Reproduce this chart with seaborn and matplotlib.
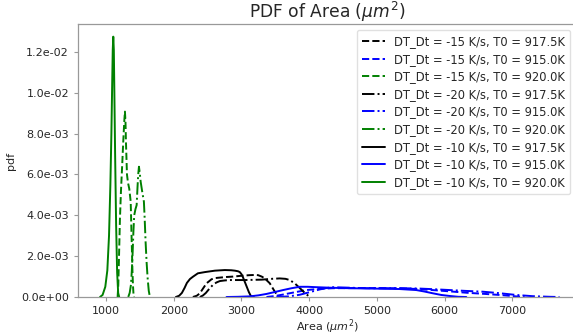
import numpy as np
import pandas as pd
import matplotlib
matplotlib.use("Agg")
import matplotlib.pyplot as plt
import seaborn as sns

# ---- data ----
labels = [
    "DT_Dt = -15 K/s, T0 = 917.5K",
    "DT_Dt = -15 K/s, T0 = 915.0K",
    "DT_Dt = -15 K/s, T0 = 920.0K",
    "DT_Dt = -20 K/s, T0 = 917.5K",
    "DT_Dt = -20 K/s, T0 = 915.0K",
    "DT_Dt = -20 K/s, T0 = 920.0K",
    "DT_Dt = -10 K/s, T0 = 917.5K",
    "DT_Dt = -10 K/s, T0 = 915.0K",
    "DT_Dt = -10 K/s, T0 = 920.0K",
]

# -15 K/s
area_m15_9175 = [2283, 2340, 2386, 2440, 2485, 2559, 2620, 2681, 2780, 2877, 3000, 3124, 3200, 3246, 3300, 3345, 3419, 3493, 3541, 3560]
pdf_m15_9175 = [0, 0.00006, 0.00018, 0.00045, 0.00067, 0.00087, 0.00093, 0.00095, 0.00098, 0.00100, 0.00104, 0.00107, 0.00108, 0.00107, 0.00100, 0.00091, 0.00067, 0.00026, 0.00004, 0]
area_m15_9150 = [3370, 3500, 3615, 3800, 3960, 4150, 4348, 4800, 5336, 5600, 5823, 6100, 6320, 6600, 6811, 7057, 7180]
pdf_m15_9150 = [0, 0.00005, 0.00012, 0.00024, 0.00034, 0.00040, 0.00043, 0.00044, 0.00043, 0.00039, 0.00034, 0.00027, 0.00021, 0.00015, 0.00010, 0.00003, 0]
area_m15_9200 = [1172, 1182, 1192, 1206, 1221, 1240, 1255, 1270, 1280, 1288, 1295, 1310, 1325, 1344, 1365, 1380, 1390, 1398, 1407, 1415]
pdf_m15_9200 = [0, 0.0006, 0.0019, 0.0038, 0.00516, 0.0065, 0.0076, 0.0086, 0.00908, 0.0086, 0.0076, 0.0060, 0.0056, 0.0053, 0.00467, 0.0027, 0.0014, 0.0006, 0.0001, 0]

# -20 K/s
area_m20_9175 = [2386, 2430, 2475, 2530, 2578, 2630, 2681, 2750, 2829, 3050, 3301, 3450, 3566, 3650, 3714, 3790, 3861, 3935, 4009]
pdf_m20_9175 = [0, 0.00007, 0.0002, 0.00042, 0.00059, 0.00071, 0.00078, 0.00081, 0.00083, 0.00083, 0.00085, 0.00089, 0.00091, 0.00089, 0.00083, 0.00066, 0.00044, 0.00020, 0]
area_m20_9150 = [3517, 3700, 3861, 4000, 4156, 4260, 4353, 4550, 4845, 5200, 5582, 5850, 6074, 6300, 6563, 6800, 7057, 7300, 7549, 7696]
pdf_m20_9150 = [0, 0.00003, 0.00011, 0.00023, 0.00037, 0.00044, 0.00048, 0.00046, 0.00043, 0.00043, 0.00042, 0.00038, 0.00034, 0.00030, 0.00026, 0.00019, 0.00010, 0.00004, 0.00001, 0]
area_m20_9200 = [1329, 1350, 1369, 1382, 1394, 1405, 1417, 1435, 1453, 1466, 1476, 1487, 1498, 1512, 1535, 1560, 1572, 1585, 1600, 1615, 1632, 1649]
pdf_m20_9200 = [0, 0.0002, 0.0006, 0.0013, 0.0022, 0.0032, 0.0040, 0.0043, 0.0045, 0.0054, 0.0060, 0.00638, 0.0061, 0.00565, 0.00516, 0.00467, 0.0038, 0.0027, 0.0017, 0.00093, 0.0003, 0]

# -10 K/s
area_m10_9175 = [2032, 2080, 2121, 2160, 2195, 2240, 2283, 2357, 2460, 2608, 2755, 2850, 2903, 2950, 2976, 3000, 3021, 3050, 3080, 3110, 3139, 3183]
pdf_m10_9175 = [0, 0.00006, 0.0002, 0.00044, 0.00069, 0.00088, 0.00099, 0.00116, 0.00122, 0.00129, 0.00132, 0.00131, 0.00129, 0.00126, 0.00122, 0.00112, 0.00098, 0.00074, 0.00049, 0.00024, 0.00005, 0]
area_m10_9150 = [2780, 2950, 3124, 3250, 3370, 3500, 3615, 3740, 3861, 3980, 4107, 4350, 4599, 5000, 5336, 5582, 5700, 5828, 5950, 6074, 6200, 6320]
pdf_m10_9150 = [0, 0.00001, 0.00003, 0.00008, 0.00015, 0.00025, 0.00034, 0.00043, 0.00050, 0.00050, 0.00048, 0.00045, 0.00043, 0.00041, 0.00039, 0.00034, 0.00027, 0.00018, 0.00010, 0.00005, 0.00001, 0]
area_m10_9200 = [912, 950, 990, 1020, 1045, 1065, 1080, 1092, 1100, 1108, 1116, 1124, 1135, 1150, 1165, 1180, 1195]
pdf_m10_9200 = [0, 0.0001, 0.0005, 0.0013, 0.0030, 0.0055, 0.0080, 0.0105, 0.0121, 0.01275, 0.0121, 0.0100, 0.0070, 0.0035, 0.0012, 0.0002, 0]

areas = [area_m15_9175, area_m15_9150, area_m15_9200,
         area_m20_9175, area_m20_9150, area_m20_9200,
         area_m10_9175, area_m10_9150, area_m10_9200]
pdfs = [pdf_m15_9175, pdf_m15_9150, pdf_m15_9200,
        pdf_m20_9175, pdf_m20_9150, pdf_m20_9200,
        pdf_m10_9175, pdf_m10_9150, pdf_m10_9200]

colors = ["black", "blue", "green"] * 3
styles = ["--"] * 3 + ["-."] * 3 + ["-"] * 3

sns.set_style("ticks")
plt.rcParams["font.family"] = ["DejaVu Sans"]

fig = plt.figure(figsize=(5.73, 3.35), dpi=100)
ax = fig.add_axes([78 / 573, 38 / 335, (576 - 78) / 573, (297 - 24) / 335])

for a, p, lab, c, ls in zip(areas, pdfs, labels, colors, styles):
    df = pd.DataFrame({"Area": a, "pdf": p})
    sns.lineplot(data=df, x="Area", y="pdf", ax=ax, color=c, linestyle=ls,
                 linewidth=1.4, label=lab)
for line in ax.get_lines():
    line.set_solid_joinstyle("round")
    line.set_dash_joinstyle("round")

ax.set_xlim(587, 7940)
ax.set_ylim(0, 0.01337)
ax.set_xticks([1000, 2000, 3000, 4000, 5000, 6000, 7000])
ax.set_yticks([0, 0.002, 0.004, 0.006, 0.008, 0.010, 0.012])
ax.yaxis.set_major_formatter(matplotlib.ticker.FormatStrFormatter("%.1e"))
ax.tick_params(labelsize=8, colors="0.6", labelcolor="0.15", length=3)
for s in ax.spines.values():
    s.set_color("0.6")
    s.set_linewidth(0.9)
ax.spines["right"].set_visible(True)
ax.spines["top"].set_visible(True)

ax.set_title(r"PDF of Area ($\mu m^2$)", fontsize=12.3, pad=2)
ax.set_xlabel(r"Area ($\mu m^2$)", fontsize=8, labelpad=1)
ax.set_ylabel("pdf", fontsize=8, labelpad=4)

leg = ax.legend(loc="upper right", fontsize=8.3, frameon=True, borderaxespad=0.5,
                handlelength=2.0, labelspacing=0.4, borderpad=0.45)
leg.get_frame().set_edgecolor("0.85")

fig.savefig("out.png", dpi=100)
